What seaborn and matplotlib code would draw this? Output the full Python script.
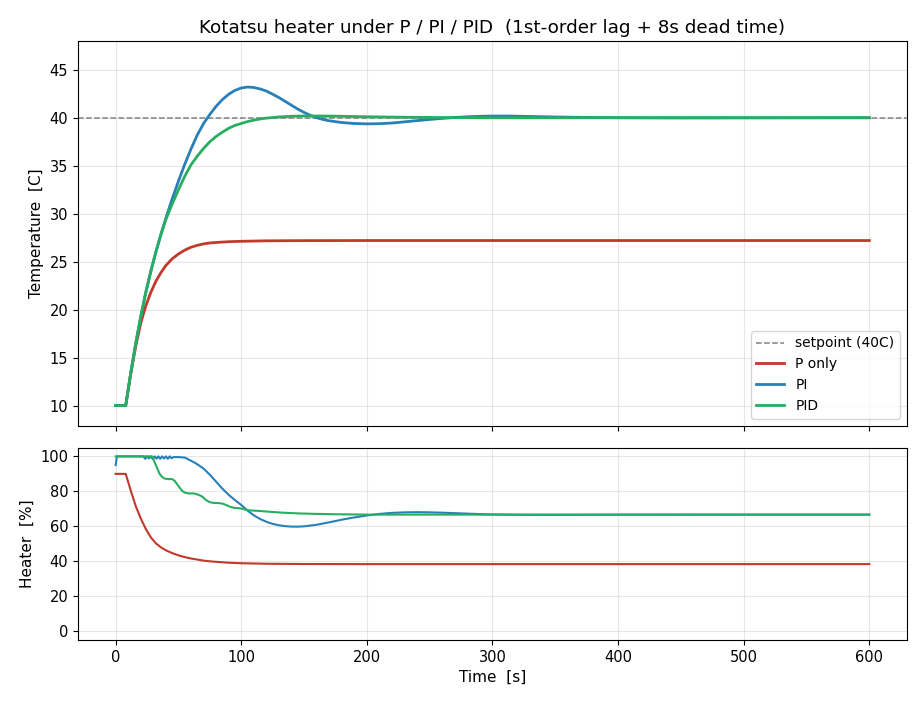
import numpy as np
import pandas as pd
import matplotlib
matplotlib.use("Agg")
import matplotlib.pyplot as plt
import seaborn as sns

# ---------------- data ----------------
SETPOINT = 40.0

# Temperature, P only
t_temp_p = [0, 8, 12, 16, 20, 24, 28, 32, 36, 40, 45, 50, 55, 60, 65, 70, 75, 80,
            90, 100, 120, 150, 200, 300, 400, 500, 600]
temp_p = [10, 10, 13.3, 16.2, 18.6, 20.4, 21.8, 22.95, 23.85, 24.6, 25.3, 25.8, 26.2,
          26.5, 26.7, 26.85, 26.95, 27.0, 27.08, 27.12, 27.17, 27.19, 27.2, 27.2,
          27.2, 27.2, 27.2]

# Temperature, PI
t_temp_pi = [0, 8, 12, 16, 20, 24, 28, 32, 36, 40, 45, 50, 55, 60, 65, 70, 75, 80,
             85, 90, 95, 100, 105, 110, 115, 120, 125, 130, 135, 140, 145, 150, 155,
             160, 165, 170, 180, 190, 200, 210, 220, 230, 240, 250, 260, 270, 280,
             290, 300, 315, 330, 350, 375, 400, 450, 500, 600]
temp_pi = [10, 10, 13.4, 16.5, 19.3, 21.8, 24.0, 26.0, 27.85, 29.55, 31.55, 33.4,
           35.15, 36.75, 38.2, 39.4, 40.35, 41.2, 41.9, 42.45, 42.85, 43.1, 43.2,
           43.15, 43.0, 42.78, 42.45, 42.1, 41.7, 41.3, 40.9, 40.55, 40.25, 40.0,
           39.82, 39.68, 39.5, 39.4, 39.36, 39.38, 39.45, 39.57, 39.7, 39.82, 39.93,
           40.03, 40.1, 40.15, 40.17, 40.17, 40.13, 40.08, 40.03, 40.0, 39.98,
           39.99, 40.0]

# Temperature, PID
t_temp_pid = [0, 8, 12, 16, 20, 24, 28, 32, 36, 40, 45, 50, 55, 60, 65, 70, 75, 80,
              85, 90, 95, 100, 105, 110, 115, 120, 130, 140, 150, 160, 170, 180, 200,
              230, 260, 300, 400, 500, 600]
temp_pid = [10, 10, 13.4, 16.5, 19.3, 21.8, 24.0, 26.0, 27.8, 29.4, 31.0, 32.5, 33.9,
            35.1, 36.0, 36.8, 37.5, 38.05, 38.5, 38.9, 39.2, 39.4, 39.6, 39.75,
            39.87, 39.96, 40.08, 40.15, 40.18, 40.18, 40.17, 40.15, 40.1, 40.05,
            40.02, 40.0, 40.0, 40.0, 40.0]

# Heater output, P only
t_heat_p = [0, 8, 12, 16, 20, 24, 28, 32, 36, 40, 45, 50, 55, 60, 65, 70, 75, 80, 90,
            100, 120, 150, 200, 300, 400, 500, 600]
heat_p = [90, 90, 80.5, 71.5, 64.5, 58.5, 53.7, 50.3, 48.0, 46.3, 44.7, 43.4, 42.4,
          41.6, 41.0, 40.4, 40.0, 39.7, 39.2, 38.9, 38.6, 38.45, 38.4, 38.4, 38.4,
          38.4, 38.4]

# Heater output, PI
t_heat_pi = [0, 1, 22, 23.5, 25, 26.5, 28, 29.5, 31, 32.5, 34, 35.5, 37, 38.5, 40,
             41.5, 43, 44.5, 46, 50, 55, 60, 65, 70, 75, 80, 85, 90, 95, 100, 105,
             110, 115, 120, 125, 130, 135, 140, 145, 150, 160, 170, 180, 190, 200,
             210, 220, 230, 240, 250, 260, 275, 290, 300, 320, 350, 400, 500, 600]
heat_pi = [95, 100, 100, 98.6, 100, 98.8, 100, 98.5, 100, 98.7, 100, 98.6, 100, 98.8,
           100, 98.6, 100, 98.9, 99.6, 99.6, 99.3, 97.5, 95.5, 93.0, 89.5, 85.5, 81.5,
           78.0, 75.0, 72.2, 69.0, 66.3, 64.2, 62.6, 61.4, 60.6, 60.1, 59.85, 59.8,
           60.0, 60.9, 62.3, 63.8, 65.1, 66.2, 67.1, 67.7, 68.0, 68.1, 68.0, 67.8,
           67.4, 67.0, 66.8, 66.6, 66.55, 66.65, 66.7, 66.7]

# Heater output, PID
t_heat_pid = [0, 29, 32, 35, 37, 39, 42, 45, 47, 50, 53, 55, 58, 62, 64, 66, 69, 72,
              75, 78, 82, 85, 88, 91, 94, 98, 101, 104, 107, 112, 118, 125, 133, 145,
              160, 175, 200, 300, 400, 500, 600]
heat_pid = [100, 100, 95, 90, 88.2, 87.3, 87.0, 87.0, 86.0, 83.0, 80.2, 79.3, 78.8,
            78.8, 78.5, 78.0, 77.0, 75.0, 73.8, 73.4, 73.3, 73.0, 72.2, 71.2, 70.6,
            70.4, 70.0, 69.4, 69.1, 68.9, 68.6, 68.2, 67.8, 67.4, 67.1, 66.9, 66.7,
            66.7, 66.7, 66.7, 66.7]

labels = ["P only", "PI", "PID"]
colors = ["#c0392b", "#2980b9", "#27ae60"]

# ---------------- plotting ----------------
plt.rcParams["font.family"] = ["DejaVu Sans"]
plt.rcParams["xtick.labelsize"] = 10.5
plt.rcParams["ytick.labelsize"] = 10.5
fig = plt.figure(figsize=(9.24, 7.04), dpi=100)
gs = fig.add_gridspec(2, 1, height_ratios=[2, 1], left=0.0844, right=0.9816,
                      top=0.9418, bottom=0.0909, hspace=0.076)
ax1 = fig.add_subplot(gs[0])
ax2 = fig.add_subplot(gs[1], sharex=ax1)

ax1.axhline(SETPOINT, color="gray", ls="--", lw=1.1, label="setpoint (40C)")
temps = [(t_temp_p, temp_p), (t_temp_pi, temp_pi), (t_temp_pid, temp_pid)]
for (tt, yy), lab, col in zip(temps, labels, colors):
    sns.lineplot(x=tt, y=yy, ax=ax1, color=col, lw=2, label=lab)

heats = [(t_heat_p, heat_p), (t_heat_pi, heat_pi), (t_heat_pid, heat_pid)]
for (tt, yy), lab, col in zip(heats, labels, colors):
    sns.lineplot(x=tt, y=yy, ax=ax2, color=col, lw=1.5, legend=False)

ax1.set_ylim(7.9, 48)
ax2.set_ylim(-5, 105)
ax1.set_ylabel("Temperature  [C]", fontsize=11)
ax2.set_ylabel("Heater  [%]", fontsize=11)
ax2.set_xlabel("Time  [s]", fontsize=11)
ax1.set_title("Kotatsu heater under P / PI / PID  (1st-order lag + 8s dead time)",
              fontsize=13.2)
ax1.grid(True, alpha=0.3)
ax2.grid(True, alpha=0.3)
plt.setp(ax1.get_xticklabels(), visible=False)
ax1.set_xlabel("")
ax1.legend(loc="lower right", fontsize=10)

fig.savefig("out.png", dpi=100)
